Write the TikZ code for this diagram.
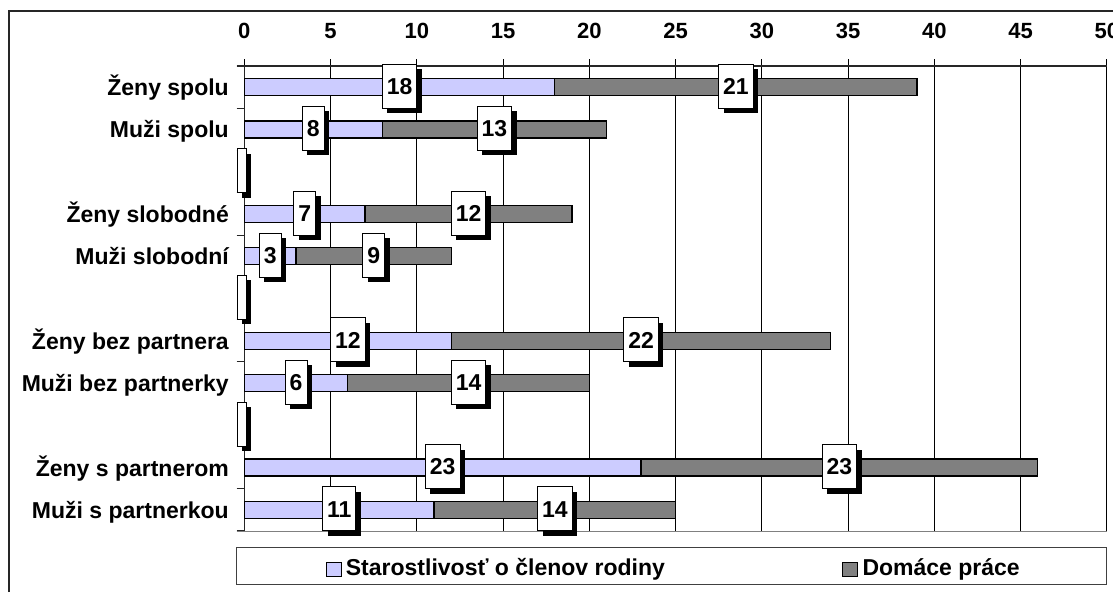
\documentclass[tikz,border=0pt]{standalone}
\usepackage{fontspec}
\setmainfont{Liberation Sans}
\usetikzlibrary{shadows}
\definecolor{lav}{RGB}{204,204,255}
\definecolor{darkbar}{RGB}{128,128,128}
\begin{document}
\begin{tikzpicture}[x=1pt,y=-1pt,
  rowlabel/.style={anchor=base east,font=\fontsize{23}{23}\selectfont\bfseries,inner sep=0pt},
  axlabel/.style={font=\fontsize{22}{22}\selectfont\bfseries,text height=15.75pt,text depth=0pt,inner sep=0pt},
  leglabel/.style={anchor=base west,font=\fontsize{23}{23}\selectfont\bfseries,inner sep=0pt},
  vallabel/.style={draw=black,line width=0.8pt,fill=white,font=\fontsize{23}{23}\selectfont\bfseries,
    text height=16.5pt,text depth=0pt,inner xsep=4.5pt,inner ysep=0pt,minimum height=44pt,
    drop shadow={shadow xshift=5pt,shadow yshift=-5pt,fill=black,opacity=1}},
  barA/.style={draw=black,line width=1.2pt,fill=lav},
  barB/.style={draw=black,line width=1.2pt,fill=darkbar},
  gridline/.style={draw=black,line width=0.9pt},
  legbox/.style={draw=black,line width=0.8pt}
]
\useasboundingbox (0,0) rectangle (1113,592);
\fill[white] (0,0) rectangle (1113,592);
% outer chart frame
\draw[line width=2pt,black!85] (9,592) -- (9,11) -- (1113,11);
% grid lines and value-axis ticks
\foreach \v in {5,10,...,50}
  \draw[gridline] ({244.3+17.25*\v},59) -- ({244.3+17.25*\v},531);
\draw[line width=1pt] (244.3,59) -- (244.3,66);
% axes
\draw[line width=1.2pt,black!85] (236.7,66) -- (1106.7,66);
\draw[line width=1.2pt,black!85] (244.3,66) -- (244.3,531);
\foreach \k in {0,...,11}
  \draw[line width=1pt,black!85] (236.7,{66+42.27*\k}) -- (244.3,{66+42.27*\k});
\draw[line width=1pt,gray] (236.7,531) -- (1106.7,531);
% axis labels
\foreach \v in {0,5,...,50}
  \node[axlabel] (ax\v) at ({244.3+17.25*\v},30.5) {\v};
% bars
\foreach \r/\a/\b in {1/18/21,2/8/13,4/7/12,5/3/9,7/12/22,8/6/14,10/23/23,11/11/14}{
  \pgfmathsetmacro\yc{66+42.27*(\r-0.5)}
  \pgfmathsetmacro\xa{244.3+17.25*\a}
  \pgfmathsetmacro\xb{244.3+17.25*(\a+\b)}
  \draw[barA] (244.3,{\yc-8.5}) rectangle (\xa,{\yc+8.5});
  \draw[barB] (\xa,{\yc-8.5}) rectangle (\xb,{\yc+8.5});
}
% row labels
\foreach \r/\t in {1/Ženy spolu,2/Muži spolu,4/Ženy slobodné,5/Muži slobodní,7/Ženy bez partnera,8/Muži bez partnerky,10/Ženy s partnerom,11/Muži s partnerkou}{
  \pgfmathsetmacro\yc{66+42.27*(\r-0.5)}
  \node[rowlabel] (row\r) at (229,{\yc+8.5}) {\t};
}
% value labels
\foreach \r/\a/\b in {1/18/21,2/8/13,4/7/12,5/3/9,7/12/22,8/6/14,10/23/23,11/11/14}{
  \pgfmathsetmacro\yc{66+42.27*(\r-0.5)}
  \node[vallabel] (va\r) at ({244.3+17.25*\a/2},{\yc-1}) {\a};
  \node[vallabel] (vb\r) at ({244.3+17.25*(\a+\b/2)},{\yc-1}) {\b};
}
\foreach \r in {3,6,9}{
  \pgfmathsetmacro\yc{66+42.27*(\r-0.5)}
  \node[vallabel] (ve\r) at (241.5,{\yc-1}) {};
}
% legend
\draw[line width=1pt,black!75] (236.7,547.7) rectangle (1106,584.3);
\draw[legbox,fill=lav] (326.7,562.7) rectangle (341.3,576.7);
\node[leglabel] (leg1) at (345.7,575.5) {Starostlivosť o členov rodiny};
\draw[legbox,fill=darkbar] (842.3,562.7) rectangle (857,576.7);
\node[leglabel] (leg2) at (862.3,575.5) {Domáce práce};
\end{tikzpicture}
\end{document}
